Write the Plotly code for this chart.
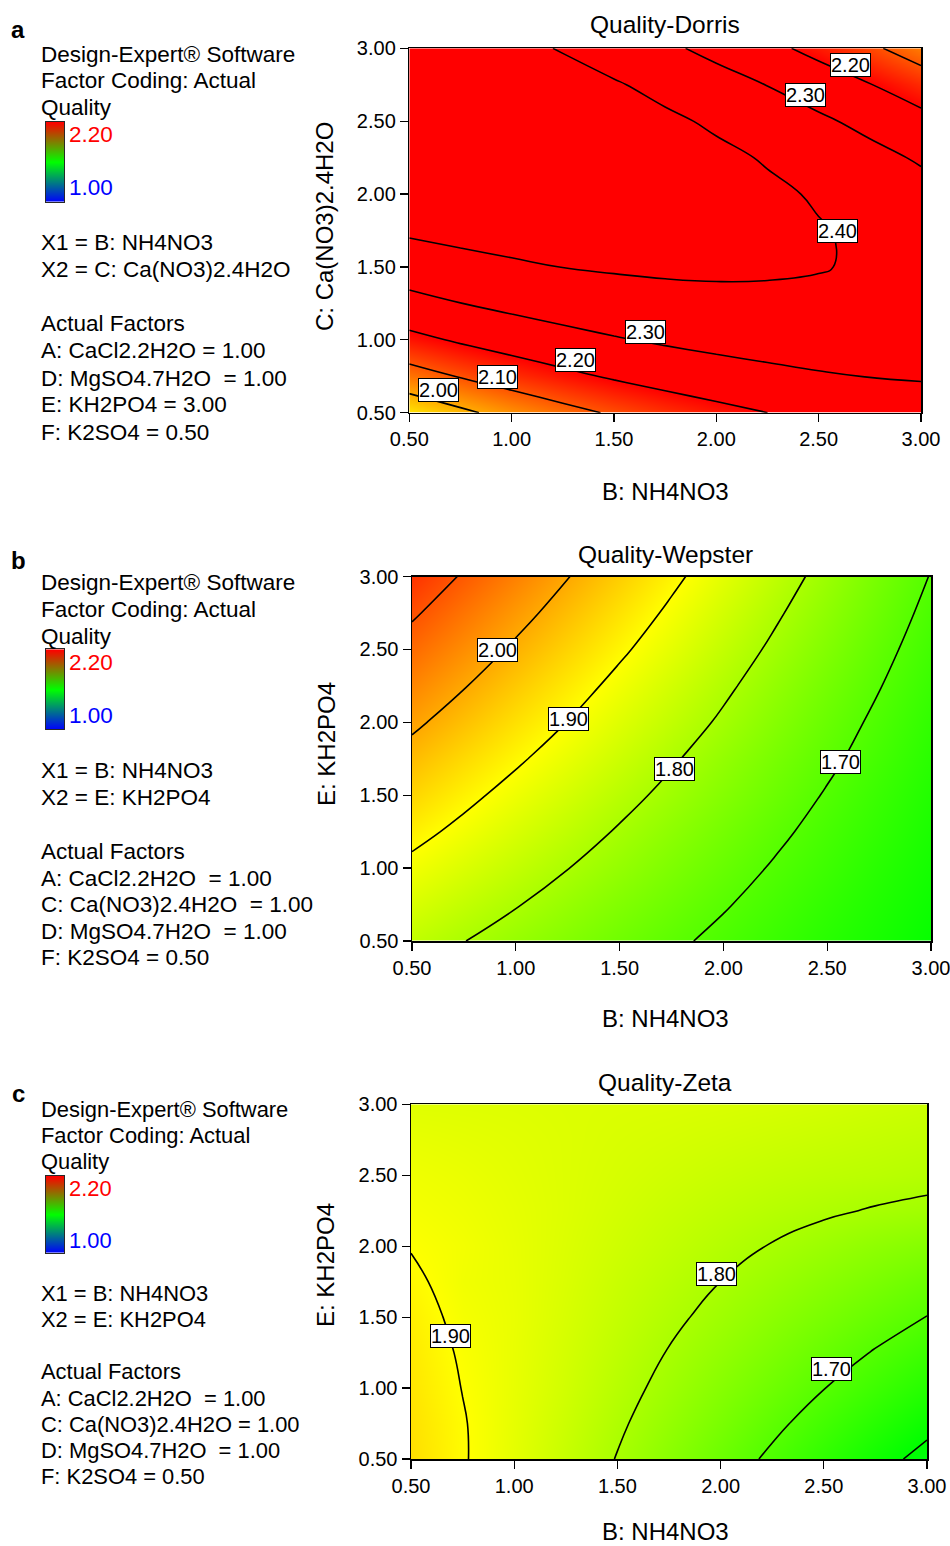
import plotly.graph_objects as go

# ---------------- data ----------------
factor_b = [0.50, 0.75, 1.00, 1.25, 1.50, 1.75, 2.00, 2.25, 2.50, 2.75, 3.00]   # B: NH4NO3
factor_y = [0.50, 0.75, 1.00, 1.25, 1.50, 1.75, 2.00, 2.25, 2.50, 2.75, 3.00]   # C or E

# rows: y = 0.50 ... 3.00 ; columns: x = 0.50 ... 3.00
quality_dorris = [
    [1.932, 1.983, 2.030, 2.072, 2.110, 2.144, 2.174, 2.200, 2.221, 2.239, 2.252],
    [2.062, 2.105, 2.144, 2.179, 2.210, 2.237, 2.259, 2.277, 2.292, 2.302, 2.308],
    [2.175, 2.211, 2.242, 2.270, 2.293, 2.312, 2.327, 2.338, 2.345, 2.348, 2.346],
    [2.271, 2.299, 2.324, 2.344, 2.360, 2.371, 2.379, 2.383, 2.382, 2.377, 2.368],
    [2.350, 2.371, 2.388, 2.401, 2.409, 2.414, 2.414, 2.410, 2.404, 2.390, 2.374],
    [2.413, 2.427, 2.436, 2.441, 2.443, 2.439, 2.432, 2.421, 2.405, 2.386, 2.362],
    [2.459, 2.465, 2.467, 2.465, 2.459, 2.448, 2.434, 2.415, 2.392, 2.365, 2.334],
    [2.489, 2.487, 2.482, 2.472, 2.459, 2.441, 2.419, 2.393, 2.362, 2.328, 2.289],
    [2.499, 2.493, 2.480, 2.463, 2.442, 2.416, 2.387, 2.353, 2.316, 2.274, 2.228],
    [2.497, 2.481, 2.461, 2.437, 2.408, 2.375, 2.339, 2.298, 2.252, 2.203, 2.150],
    [2.477, 2.453, 2.425, 2.394, 2.358, 2.318, 2.273, 2.225, 2.172, 2.116, 2.055],
]
quality_wepster = [
    [1.826, 1.801, 1.777, 1.754, 1.731, 1.709, 1.688, 1.667, 1.646, 1.627, 1.607],
    [1.856, 1.829, 1.803, 1.777, 1.752, 1.728, 1.704, 1.681, 1.658, 1.636, 1.615],
    [1.886, 1.857, 1.829, 1.801, 1.774, 1.747, 1.721, 1.695, 1.671, 1.646, 1.623],
    [1.917, 1.886, 1.855, 1.825, 1.795, 1.766, 1.738, 1.710, 1.683, 1.657, 1.631],
    [1.948, 1.914, 1.881, 1.849, 1.817, 1.786, 1.756, 1.726, 1.696, 1.667, 1.639],
    [1.979, 1.943, 1.908, 1.874, 1.840, 1.806, 1.773, 1.741, 1.710, 1.679, 1.648],
    [2.011, 1.973, 1.935, 1.899, 1.862, 1.827, 1.792, 1.757, 1.723, 1.690, 1.657],
    [2.043, 2.003, 1.963, 1.924, 1.885, 1.847, 1.810, 1.773, 1.737, 1.702, 1.667],
    [2.075, 2.033, 1.991, 1.950, 1.909, 1.869, 1.829, 1.790, 1.752, 1.714, 1.677],
    [2.108, 2.063, 2.019, 1.976, 1.933, 1.890, 1.848, 1.807, 1.767, 1.727, 1.687],
    [2.141, 2.094, 2.048, 2.002, 1.957, 1.912, 1.868, 1.825, 1.782, 1.739, 1.698],
]
quality_zeta = [
    [1.939, 1.904, 1.869, 1.833, 1.798, 1.762, 1.726, 1.691, 1.655, 1.619, 1.584],
    [1.935, 1.903, 1.871, 1.839, 1.807, 1.775, 1.743, 1.711, 1.678, 1.646, 1.614],
    [1.930, 1.899, 1.873, 1.845, 1.816, 1.787, 1.758, 1.730, 1.701, 1.672, 1.643],
    [1.925, 1.895, 1.874, 1.849, 1.824, 1.798, 1.773, 1.748, 1.722, 1.697, 1.671],
    [1.918, 1.889, 1.875, 1.853, 1.831, 1.809, 1.787, 1.765, 1.743, 1.721, 1.699],
    [1.908, 1.884, 1.874, 1.856, 1.837, 1.819, 1.800, 1.782, 1.763, 1.745, 1.726],
    [1.898, 1.886, 1.873, 1.858, 1.843, 1.828, 1.813, 1.798, 1.783, 1.768, 1.756],
    [1.889, 1.881, 1.871, 1.860, 1.848, 1.836, 1.825, 1.815, 1.806, 1.797, 1.790],
    [1.882, 1.876, 1.868, 1.860, 1.852, 1.844, 1.836, 1.829, 1.823, 1.819, 1.813],
    [1.873, 1.869, 1.865, 1.860, 1.855, 1.851, 1.846, 1.841, 1.836, 1.831, 1.826],
    [1.863, 1.862, 1.861, 1.859, 1.858, 1.857, 1.855, 1.852, 1.848, 1.843, 1.838],
]

tick_vals = [0.50, 1.00, 1.50, 2.00, 2.50, 3.00]
tick_text = ["0.50", "1.00", "1.50", "2.00", "2.50", "3.00"]
legend_range = [1.00, 2.20]          # colour-scale limits shown in the legends
legend_text = ["2.20", "1.00"]

titles = ["Quality-Dorris", "Quality-Wepster", "Quality-Zeta"]
panel_letters = ["a", "b", "c"]
x_titles = ["B: NH4NO3", "B: NH4NO3", "B: NH4NO3"]
y_titles = ["C: Ca(NO3)2.4H2O", "E: KH2PO4", "E: KH2PO4"]
contour_levels = [(2.0, 2.4), (1.7, 2.1), (1.6, 1.9)]

# contour label texts and where they sit (data coords)
labels_dorris = [("2.20", 2.655, 2.886), ("2.30", 2.434, 2.677), ("2.40", 2.590, 1.745),
                 ("2.30", 1.652, 1.052), ("2.20", 1.311, 0.861), ("2.10", 0.930, 0.748), ("2.00", 0.643, 0.655)]
labels_wepster = [("2.00", 0.911, 2.494), ("1.90", 1.253, 2.020), ("1.80", 1.766, 1.677), ("1.70", 2.563, 1.725)]
labels_zeta = [("1.90", 0.693, 1.367), ("1.80", 1.978, 1.805), ("1.70", 2.537, 1.137)]

legend_lines = [
    ["Design-Expert® Software", "Factor Coding: Actual", "Quality",
     "X1 = B: NH4NO3", "X2 = C: Ca(NO3)2.4H2O",
     "Actual Factors", "A: CaCl2.2H2O = 1.00", "D: MgSO4.7H2O \u00a0= 1.00", "E: KH2PO4 = 3.00", "F: K2SO4 = 0.50"],
    ["Design-Expert® Software", "Factor Coding: Actual", "Quality",
     "X1 = B: NH4NO3", "X2 = E: KH2PO4",
     "Actual Factors", "A: CaCl2.2H2O \u00a0= 1.00", "C: Ca(NO3)2.4H2O \u00a0= 1.00", "D: MgSO4.7H2O \u00a0= 1.00", "F: K2SO4 = 0.50"],
    ["Design-Expert® Software", "Factor Coding: Actual", "Quality",
     "X1 = B: NH4NO3", "X2 = E: KH2PO4",
     "Actual Factors", "A: CaCl2.2H2O \u00a0= 1.00", "C: Ca(NO3)2.4H2O = 1.00", "D: MgSO4.7H2O \u00a0= 1.00", "F: K2SO4 = 0.50"],
]

# ---------------- layout geometry (page pixels) ----------------
OFF = 0                      # body margin is removed by the post script below
W, H = 950, 1546
FONT = "Liberation Sans, Arial, sans-serif"
plot_box = [(409.3, 921.0, 48.3, 412.7), (412.0, 931.0, 576.5, 941.0), (411.0, 927.0, 1104.3, 1459.0)]
title_y = [25, 554, 1082]
xtitle_y = [491, 1018, 1531]
ytitle_pos = [(325, 227), (326, 744), (325, 1265)]
letter_y = [29, 561, 1093]
legend_line_y = [
    [54, 80.7, 107.3, 242.3, 269.3, 323.3, 350.7, 378.3, 405, 432.3],
    [582.7, 609.3, 636.7, 770, 797.3, 851, 878.3, 904, 931, 957.7],
    [1109.3, 1135, 1161.7, 1293.3, 1319.3, 1371.7, 1398.3, 1424.3, 1450, 1476.7],
]
legend_font = [22.5, 22.5, 21.9]
legend_x = 39
bar_box = [(46, 64, 121.7, 201.7), (46, 64, 649.3, 729), (46, 64, 1175.7, 1252.7)]
bar_label_x = 66.5
bar_label_y = [(134, 187.7), (662.3, 716), (1188.3, 1240.7)]


def px(x):
    return (x - OFF) / W


def py(y):
    return 1 - (y - OFF) / H


contour_scale = [[0.0, "rgb(0,0,255)"], [0.25, "rgb(0,255,255)"], [0.5, "rgb(0,255,0)"],
                 [0.75, "rgb(255,255,0)"], [1.0, "rgb(255,0,0)"]]
legend_scale = [[0.0, "rgb(0,0,255)"], [0.5, "rgb(0,255,0)"], [1.0, "rgb(255,0,0)"]]

fig = go.Figure()
datasets = [quality_dorris, quality_wepster, quality_zeta]
label_sets = [labels_dorris, labels_wepster, labels_zeta]
annotations = []
layout_axes = {}

for i in range(3):
    xa = "x" if i == 0 else f"x{i+1}"
    ya = "y" if i == 0 else f"y{i+1}"
    lo, hi = contour_levels[i]
    fig.add_trace(go.Contour(
        x=factor_b, y=factor_y, z=datasets[i], xaxis=xa, yaxis=ya,
        zmin=legend_range[0], zmax=legend_range[1], zauto=False,
        colorscale=contour_scale, showscale=False,
        contours=dict(start=lo, end=hi + 1e-9, size=0.1, coloring="heatmap", showlabels=False),
        line=dict(color="black", width=1.6, smoothing=1.3),
        hoverinfo="skip",
    ))
    x0, x1, y0, y1 = plot_box[i]
    axis_common = dict(range=[0.5, 3.0], tickmode="array", tickvals=tick_vals, ticktext=tick_text,
                       ticks="outside", ticklen=8, tickwidth=1.2, tickcolor="black",
                       showline=True, linecolor="black", linewidth=1.5, mirror=True,
                       showgrid=False, zeroline=False, automargin=False, ticklabeloverflow="allow",
                       tickfont=dict(family=FONT, size=20, color="black"))
    layout_axes["xaxis" if i == 0 else f"xaxis{i+1}"] = dict(axis_common, domain=[px(x0), px(x1)],
                                                           anchor=ya, ticklabelstandoff=0)
    layout_axes["yaxis" if i == 0 else f"yaxis{i+1}"] = dict(axis_common, domain=[py(y1), py(y0)],
                                                           anchor=xa, ticklabelstandoff=0)

    cx = 665
    annotations.append(dict(text=titles[i], x=px(cx), y=py(title_y[i]), xref="paper", yref="paper",
                            showarrow=False, xanchor="center", yanchor="middle",
                            font=dict(family=FONT, size=24.5, color="black")))
    annotations.append(dict(text=x_titles[i], x=px(cx), y=py(xtitle_y[i]), xref="paper", yref="paper",
                            showarrow=False, xanchor="center", yanchor="middle",
                            font=dict(family=FONT, size=24, color="black")))
    annotations.append(dict(text=y_titles[i], x=px(ytitle_pos[i][0]), y=py(ytitle_pos[i][1]),
                            xref="paper", yref="paper", textangle=-90,
                            showarrow=False, xanchor="center", yanchor="middle",
                            font=dict(family=FONT, size=24, color="black")))
    annotations.append(dict(text=f"<b>{panel_letters[i]}</b>", x=px(18), y=py(letter_y[i]),
                            xref="paper", yref="paper", showarrow=False, xanchor="center", yanchor="middle",
                            font=dict(family=FONT, size=24, color="black")))
    for txt, yy in zip(legend_lines[i], legend_line_y[i]):
        annotations.append(dict(text=txt, x=px(legend_x), y=py(yy), xref="paper", yref="paper",
                                showarrow=False, xanchor="left", yanchor="middle",
                                font=dict(family=FONT, size=legend_font[i], color="black")))
    annotations.append(dict(text=legend_text[0], x=px(bar_label_x), y=py(bar_label_y[i][0]),
                            xref="paper", yref="paper", showarrow=False, xanchor="left", yanchor="middle",
                            font=dict(family=FONT, size=legend_font[i], color="rgb(255,0,0)")))
    annotations.append(dict(text=legend_text[1], x=px(bar_label_x), y=py(bar_label_y[i][1]),
                            xref="paper", yref="paper", showarrow=False, xanchor="left", yanchor="middle",
                            font=dict(family=FONT, size=legend_font[i], color="rgb(0,0,255)")))
    for txt, lx, ly in label_sets[i]:
        annotations.append(dict(text=txt, x=lx, y=ly, xref=xa, yref=ya, showarrow=False,
                                xanchor="center", yanchor="middle", bgcolor="white",
                                bordercolor="black", borderwidth=1, borderpad=0,
                                font=dict(family=FONT, size=20, color="black")))

    bx0, bx1, by0, by1 = bar_box[i]
    xb = f"x{i+4}"
    yb = f"y{i+4}"
    fig.add_trace(go.Heatmap(
        x=[0, 1], y=[0, 1], z=[[legend_range[0], legend_range[0]], [legend_range[1], legend_range[1]]],
        zmin=legend_range[0], zmax=legend_range[1], colorscale=legend_scale, showscale=False,
        zsmooth="best", xaxis=xb, yaxis=yb, hoverinfo="skip"))
    bar_axis = dict(range=[0, 1], showline=True, linecolor="rgb(40,40,40)", linewidth=1, mirror=True,
                    showticklabels=False, ticks="", showgrid=False, zeroline=False, fixedrange=True,
                    automargin=False)
    layout_axes[f"xaxis{i+4}"] = dict(bar_axis, domain=[px(bx0), px(bx1)], anchor=yb)
    layout_axes[f"yaxis{i+4}"] = dict(bar_axis, domain=[py(by1), py(by0)], anchor=xb)

fig.update_layout(width=W, height=H, margin=dict(l=0, r=0, t=0, b=0, pad=0, autoexpand=False),
                  paper_bgcolor="white", plot_bgcolor="white", showlegend=False,
                  annotations=annotations, **layout_axes)

page_fix = ("document.documentElement.style.margin='0px';document.body.style.margin='0px';"
            "document.documentElement.style.overflow='hidden';document.body.style.overflow='hidden';")
fig.write_html("out.html", post_script=page_fix, config={"displayModeBar": False, "staticPlot": True})
